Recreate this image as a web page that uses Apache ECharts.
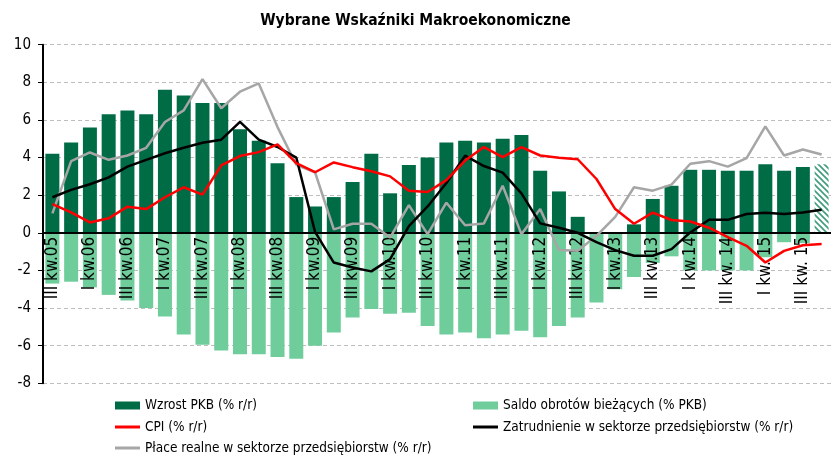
<!DOCTYPE html>
<html>
<head>
<meta charset="utf-8">
<script src="https://cdn.jsdelivr.net/npm/echarts@6/dist/echarts.min.js"></script>
<style>
html,body{margin:0;padding:0;background:#fff}
#main{width:831px;height:457px}
</style>
</head>
<body>
<div id="main"></div>
<script>
// kwartaly od III kw.05 do IV kw.15 (ostatni = prognoza)
var categories = ['III kw.05','IV kw.05','I kw.06','II kw.06','III kw.06','IV kw.06',
  'I kw.07','II kw.07','III kw.07','IV kw.07','I kw.08','II kw.08','III kw.08','IV kw.08',
  'I kw.09','II kw.09','III kw.09','IV kw.09','I kw.10','II kw.10','III kw.10','IV kw.10',
  'I kw.11','II kw.11','III kw.11','IV kw.11','I kw.12','II kw.12','III kw.12','IV kw.12',
  'I kw.13','II kw.13','III kw.13','IV kw.13','I kw.14','II kw.14','III kw. 14','IV kw. 14',
  'I kw. 15','II kw. 15','III kw. 15','IV kw. 15'];

var gdp = [4.2, 4.8, 5.6, 6.3, 6.5, 6.3, 7.6, 7.3, 6.9, 6.9, 5.5, 4.9, 3.7, 1.9,
  1.4, 1.9, 2.7, 4.2, 2.1, 3.6, 4.0, 4.8, 4.9, 4.8, 5.0, 5.2, 3.3, 2.2,
  0.85, 0, 0, 0.45, 1.8, 2.5, 3.35, 3.35, 3.3, 3.3, 3.65, 3.3, 3.5, 3.65];

var saldo = [-2.7, -2.6, -2.9, -3.3, -3.6, -4.0, -4.45, -5.4, -5.95, -6.25, -6.45, -6.45, -6.6, -6.7,
  -6.0, -5.3, -4.5, -4.05, -4.3, -4.25, -4.95, -5.4, -5.3, -5.6, -5.4, -5.2, -5.55, -4.95,
  -4.5, -3.7, -3.0, -2.35, -1.6, -1.25, -2.0, -2.0, -2.0, -2.0, -1.3, -0.5, -0.55, null];

var cpi = [1.53, 1.09, 0.55, 0.77, 1.39, 1.26, 1.89, 2.42, 2.03, 3.58, 4.08, 4.29, 4.7, 3.7,
  3.22, 3.74, 3.49, 3.27, 3.0, 2.24, 2.17, 2.8, 3.84, 4.56, 4.02, 4.56, 4.11, 3.99,
  3.91, 2.86, 1.26, 0.48, 1.07, 0.68, 0.6, 0.27, -0.23, -0.69, -1.58, -0.96, -0.66, -0.6];

var zatrudnienie = [1.89, 2.28, 2.58, 2.95, 3.52, 3.88, 4.23, 4.52, 4.79, 4.95, 5.9, 4.95, 4.56, 4.0,
  0.05, -1.58, -1.84, -2.05, -1.4, 0.35, 1.4, 2.65, 4.1, 3.55, 3.2, 2.1, 0.5, 0.27,
  0.0, -0.5, -0.92, -1.22, -1.22, -0.87, 0.02, 0.69, 0.69, 1.0, 1.06, 1.0, 1.08, 1.22];

var place = [1.03, 3.81, 4.27, 3.88, 4.11, 4.52, 5.89, 6.51, 8.17, 6.62, 7.5, 7.94, 5.62, 3.62,
  3.22, 0.18, 0.48, 0.48, -0.25, 1.47, -0.07, 1.6, 0.4, 0.5, 2.5, -0.07, 1.26, -0.92,
  -0.96, -0.16, 0.85, 2.42, 2.24, 2.56, 3.67, 3.81, 3.52, 3.97, 5.66, 4.11, 4.43, 4.16];

var names = ['Wzrost PKB (% r/r)', 'Saldo obrotów bieżących (% PKB)', 'CPI (% r/r)',
  'Zatrudnienie w sektorze przedsiębiorstw (% r/r)', 'Płace realne w sektorze przedsiębiorstw (% r/r)'];

var FONT = '"Liberation Sans Narrow", "Arial Narrow", "DejaVu Sans Condensed", sans-serif';

// kreskowanie dla prognozy
var hatch = document.createElement('canvas');
hatch.width = 6; hatch.height = 6;
var hc = hatch.getContext('2d');
hc.fillStyle = '#fff';
hc.fillRect(0, 0, 6, 6);
hc.strokeStyle = '#3f9c7c';
hc.lineWidth = 1.6;
hc.beginPath();
hc.moveTo(-1, -1); hc.lineTo(7, 7);
hc.moveTo(-4, 2); hc.lineTo(4, 10);
hc.moveTo(2, -4); hc.lineTo(10, 4);
hc.stroke();

var gdpData = gdp.map(function (v, i) {
  if (i == gdp.length - 1) {
    return {value: v, itemStyle: {color: {image: hatch, repeat: 'repeat'}}};
  }
  return v;
});

function leg(name, left, top, h) {
  return {
    data: [{name: name, icon: 'rect'}], left: left, top: top, orient: 'horizontal',
    itemWidth: 25, itemHeight: h, itemGap: 0, padding: 0,
    textStyle: {fontFamily: FONT, fontSize: 13.5, color: '#000'}
  };
}

window.onload = function () {
  var myChart = echarts.init(document.getElementById('main'));
  var option = {
    animation: false,
    title: {
      text: 'Wybrane Wskaźniki Makroekonomiczne',
      left: 'center', top: 8,
      textStyle: {fontFamily: FONT, fontSize: 15.5, fontWeight: 'bold', color: '#000'}
    },
    legend: [
      leg(names[0], 115, 398.5, 8),
      leg(names[1], 473, 398.5, 8),
      leg(names[2], 115, 420, 3),
      leg(names[3], 473, 420, 3),
      leg(names[4], 115, 441, 3)
    ],
    grid: {left: 43, top: 44.7, width: 798, height: 338.6},
    xAxis: {
      type: 'category',
      data: categories,
      offset: -150.5,
      z: 5,
      axisLine: {onZero: false, lineStyle: {color: '#000', width: 2}},
      axisTick: {interval: 0, length: 4, lineStyle: {color: '#000'}},
      axisLabel: {
        interval: 1, rotate: 90, margin: 4,
        fontFamily: FONT, fontSize: 17, color: '#000'
      },
      splitLine: {show: false}
    },
    yAxis: {
      type: 'value',
      min: -8, max: 10, interval: 2,
      axisLine: {show: true, lineStyle: {color: '#000', width: 2}},
      axisTick: {show: true, length: 5, lineStyle: {color: '#000'}},
      axisLabel: {fontFamily: FONT, fontSize: 15, color: '#000', margin: 12},
      splitLine: {lineStyle: {color: '#bdbdbd', type: [4, 3], width: 1}}
    },
    series: [
      {
        name: names[0], type: 'bar', data: gdpData,
        barWidth: 14, barGap: '-100%',
        itemStyle: {color: '#006c45'}
      },
      {
        name: names[1], type: 'bar', data: saldo,
        barWidth: 14,
        itemStyle: {color: '#6fcd9c'}
      },
      {
        name: names[4], type: 'line', data: place, z: 6,
        symbol: 'none', lineStyle: {color: '#a6a6a6', width: 2.5},
        itemStyle: {color: '#a6a6a6'}
      },
      {
        name: names[3], type: 'line', data: zatrudnienie, z: 6,
        symbol: 'none', lineStyle: {color: '#000', width: 2.5},
        itemStyle: {color: '#000'}
      },
      {
        name: names[2], type: 'line', data: cpi, z: 6,
        symbol: 'none', lineStyle: {color: '#ff0000', width: 2.5},
        itemStyle: {color: '#ff0000'}
      }
    ]
  };
  myChart.setOption(option);
};
</script>
</body>
</html>
